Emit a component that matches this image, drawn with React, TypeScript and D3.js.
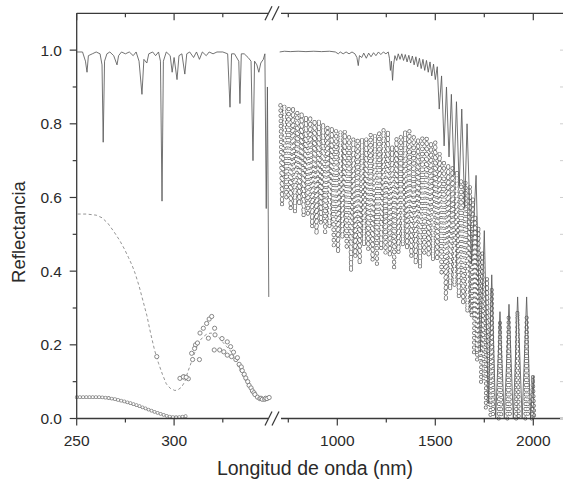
import React from 'react';
import * as d3 from 'd3';

type P = [number, number];

// ---- axis ticks ----
const leftMajor = [250, 300];
const leftMinor = [275, 325];
const rightMajor = [1000, 1500, 2000];
const rightMinor = [750, 1250, 1750];
const yMajor = [0, 0.2, 0.4, 0.6, 0.8, 1.0];
const yMinor = [0.1, 0.3, 0.5, 0.7, 0.9];

// ---- solid line (left segment, 250-350 nm) ----
const solidLeft: P[] = [
  [250, 0.995], [253, 0.995], [254.5, 0.97], [255.3, 0.94], [256, 0.985], [258, 0.99], [260, 0.995],
  [262, 0.99], [263, 0.96], [263.6, 0.75], [264.3, 0.97], [265.5, 0.99], [267, 0.995], [269, 0.985],
  [270.7, 0.96], [271.5, 0.985], [273, 0.995], [275, 0.99], [277, 0.995], [279, 0.985], [280.5, 0.995],
  [282, 0.97], [283.5, 0.88], [284.5, 0.975], [286, 0.965], [287, 0.99], [289, 0.995], [290.5, 0.985],
  [292, 0.995], [293, 0.97], [293.8, 0.59], [294.5, 0.97], [296, 0.995], [298, 0.985], [299, 0.94],
  [300, 0.98], [301.5, 0.92], [302.5, 0.985], [304, 0.99], [305.5, 0.935], [306.5, 0.99], [308, 0.995],
  [310, 0.98], [311.5, 0.995], [313, 0.975], [314.5, 0.995], [316.5, 0.985], [318, 0.995], [320, 0.99],
  [322, 0.995], [325, 0.995], [327.5, 0.99], [328.7, 0.845], [329.5, 0.99], [331, 0.99], [333.2, 0.97],
  [333.8, 0.855], [334.5, 0.99], [336, 0.99], [338, 0.98], [339.5, 0.97], [340.5, 0.70], [341.3, 0.97],
  [342.5, 0.96], [343.5, 0.94], [344.5, 0.965], [345.8, 0.975], [346.6, 0.99], [347.3, 0.57],
  [347.9, 0.90], [348.6, 0.33],
];

// ---- solid line (right segment, 700-2150 nm) ----
const solidRight: P[] = [
  [706, 0.995], [730, 0.997], [760, 0.996], [800, 0.997], [840, 0.996], [880, 0.997], [920, 0.996],
  [960, 0.997], [990, 0.995], [1005, 0.99], [1015, 0.995], [1030, 0.99], [1045, 0.995], [1060, 0.99],
  [1075, 0.995], [1090, 0.99], [1100, 0.98], [1107, 0.958], [1113, 0.985], [1125, 0.98], [1135, 0.992],
  [1148, 0.978], [1160, 0.992], [1172, 0.982], [1185, 0.993], [1197, 0.985], [1210, 0.995], [1222, 0.988],
  [1235, 0.995], [1248, 0.99], [1260, 0.995], [1266, 0.978], [1271, 0.945], [1276, 0.97], [1282, 0.918],
  [1287, 0.96], [1294, 0.985], [1303, 0.972], [1311, 0.99], [1320, 0.975], [1329, 0.99], [1338, 0.972],
  [1347, 0.988], [1356, 0.968], [1365, 0.986], [1374, 0.965], [1383, 0.984], [1392, 0.96], [1401, 0.982],
  [1410, 0.955], [1419, 0.978], [1428, 0.95], [1437, 0.975], [1446, 0.945], [1455, 0.972], [1464, 0.94],
  [1473, 0.968], [1482, 0.93], [1491, 0.962], [1500, 0.92], [1510, 0.955], [1520, 0.84], [1532, 0.93],
  [1545, 0.74], [1557, 0.90], [1570, 0.71], [1582, 0.88], [1596, 0.66], [1608, 0.86], [1622, 0.63],
  [1635, 0.84], [1650, 0.57], [1662, 0.80], [1685, 0.42], [1708, 0.66], [1730, 0.18], [1750, 0.51],
  [1770, 0.04], [1788, 0.39], [1808, 0.0], [1830, 0.29], [1852, 0.0], [1876, 0.31], [1898, 0.0],
  [1920, 0.33], [1943, 0.0], [1966, 0.33], [1986, 0.0], [2000, 0.115], [2004, 0.0],
];

// ---- dashed curve (left segment) ----
const dashedLeft: P[] = [
  [250.5, 0.555], [255, 0.555], [260, 0.552], [263, 0.545], [266, 0.53], [269, 0.508], [272, 0.484],
  [274.5, 0.46], [276.5, 0.438], [278.5, 0.415], [280, 0.394], [282, 0.36], [284, 0.32], [286, 0.28],
  [288, 0.23], [290, 0.185], [292, 0.15], [294, 0.12], [296, 0.094], [298, 0.082], [300.4, 0.076],
  [302, 0.078], [303.8, 0.085], [305.5, 0.1], [307, 0.126], [309, 0.155], [311, 0.185], [313, 0.21],
  [315, 0.222], [317, 0.23], [319, 0.232], [321, 0.228], [323, 0.22], [325, 0.207], [327, 0.195],
  [329, 0.183], [331, 0.165], [333.8, 0.13], [336, 0.108], [338, 0.09], [340, 0.075], [342.4, 0.06],
  [345, 0.052], [347, 0.053], [348.5, 0.057],
];

// ---- open-circle series (left segment) ----
const circlesA: P[] = [
  [303, 0.109], [305, 0.113], [307.3, 0.108], [309.5, 0.16], [311, 0.2], [313.3, 0.232], [315, 0.245],
  [316.7, 0.258], [318, 0.27], [319.3, 0.277], [320.8, 0.245],
];
const circlesB: P[] = [
  [291.1, 0.168], [304.7, 0.113], [306.2, 0.112], [310.5, 0.19], [312, 0.205], [317.6, 0.218],
  [321, 0.227], [324.6, 0.217], [327.3, 0.208], [329, 0.195], [330.5, 0.18],
];
const circlesC: P[] = [
  [309, 0.177], [313, 0.16], [320.6, 0.186], [323.4, 0.186], [325.5, 0.181], [327.3, 0.172], [329.5, 0.168],
];
const circlesTail: P[] = [
  [331.7, 0.16], [332.5, 0.165], [333.4, 0.147], [334.5, 0.14], [335, 0.13], [336, 0.12], [336.8, 0.11],
  [337.8, 0.1], [338.5, 0.09], [339.5, 0.083], [340.2, 0.075], [341, 0.07], [341.5, 0.065], [342.8, 0.058],
  [344, 0.054], [344.6, 0.055], [345.3, 0.052], [346.5, 0.052], [347, 0.055], [347.7, 0.054], [348.8, 0.057],
];

// ---- bottom open-circle series (left segment) ----
const bottomSeries: P[] = [
  [250, 0.058], [262, 0.058], [266, 0.056], [270, 0.052], [274, 0.047], [278, 0.041], [282, 0.034],
  [286, 0.026], [290, 0.018], [294, 0.011], [297, 0.006], [300, 0.003], [303, 0.004], [307, 0.007],
];

// ---- fringe band (right segment): top & bottom of each fringe ----
const bandTopNm = [710, 730, 752, 774, 796, 818, 840, 862, 884, 906, 928, 950, 972, 994, 1016, 1038, 1060, 1082,
  1104, 1126, 1148, 1170, 1192, 1214, 1236, 1258, 1280, 1302, 1324, 1346, 1368, 1390, 1412, 1434, 1456, 1478,
  1500, 1522, 1544, 1566, 1588, 1610, 1632, 1654, 1676];
const bandTop = [0.85, 0.85, 0.84, 0.845, 0.83, 0.83, 0.82, 0.82, 0.81, 0.81, 0.80, 0.79, 0.79, 0.78, 0.78, 0.78,
  0.77, 0.76, 0.76, 0.76, 0.76, 0.77, 0.77, 0.78, 0.785, 0.78, 0.74, 0.76, 0.77, 0.78, 0.78, 0.77, 0.76, 0.76,
  0.76, 0.75, 0.75, 0.72, 0.70, 0.69, 0.68, 0.67, 0.65, 0.64, 0.63];
const bandBotNm = [718, 740, 762, 784, 806, 828, 850, 872, 894, 916, 938, 960, 982, 1004, 1026, 1048, 1070, 1092,
  1114, 1136, 1158, 1180, 1202, 1224, 1246, 1268, 1290, 1312, 1334, 1356, 1378, 1400, 1422, 1444, 1466, 1488,
  1510, 1532, 1554, 1576, 1598, 1620, 1642, 1664, 1684];
const bandBot = [0.58, 0.60, 0.57, 0.56, 0.58, 0.55, 0.55, 0.52, 0.50, 0.53, 0.50, 0.52, 0.47, 0.45, 0.49, 0.46,
  0.40, 0.44, 0.42, 0.47, 0.46, 0.43, 0.42, 0.46, 0.45, 0.44, 0.41, 0.45, 0.47, 0.46, 0.44, 0.42, 0.41, 0.45,
  0.44, 0.43, 0.43, 0.39, 0.32, 0.35, 0.36, 0.33, 0.31, 0.29, 0.28];

// ---- fringe columns at long wavelengths ----
const tailNm = [1692, 1704, 1720, 1740, 1764, 1788, 1830, 1874, 1919, 1966, 1998];
const tailTop = [0.60, 0.55, 0.52, 0.45, 0.38, 0.35, 0.26, 0.28, 0.29, 0.28, 0.115];
const tailBot = [0.28, 0.18, 0.16, 0.10, 0.03, 0.01, 0.0, 0.0, 0.0, 0.0, 0.0];

const W = 563;
const H = 485;
const PL = 76.7;
const PR = 563;
const PT = 13.3;
const PB = 418.5;
const BREAK = 274;

const xL = d3.scaleLinear().domain([250, 350]).range([PL, 271.5]);
const xR = d3.scaleLinear().domain([700, 2150]).range([278.5, 562.7]);
const y = d3.scaleLinear().domain([0, 1.1]).range([PB, PT]);

const lineL = d3.line<P>().x((d) => xL(d[0])).y((d) => y(d[1]));
const lineR = d3.line<P>().x((d) => xR(d[0])).y((d) => y(d[1]));

const FONT = "'Liberation Sans', Arial, Helvetica, sans-serif";
const AX = '#3a3a3a';

function Rings({ d, gap, outer, inner, color }: { d: string; gap: number; outer: number; inner: number; color: string }) {
  return (
    <g fill="none">
      <path d={d} stroke={color} strokeWidth={outer} strokeLinecap="round" strokeDasharray={`0 ${gap}`} />
      <path d={d} stroke="#fff" strokeWidth={inner} strokeLinecap="round" strokeDasharray={`0 ${gap}`} />
    </g>
  );
}

export default function App() {
  const bandPts: P[] = [];
  bandTopNm.forEach((nm, i) => {
    bandPts.push([nm, bandTop[i]]);
    bandPts.push([bandBotNm[i], bandBot[i]]);
  });
  const bandD = lineR(bandPts) || '';
  const tailD = tailNm
    .map((nm, i) => {
      const cx = xR(nm);
      return `M${cx - 1.3},${y(tailBot[i])}L${cx},${y(tailTop[i])}L${cx + 1.3},${y(tailBot[i])}`;
    })
    .join('');

  const leftCircles = [...circlesA, ...circlesB, ...circlesC, ...circlesTail];

  const axisSeg = (yy: number) => (
    <g stroke={AX} strokeWidth={1.3}>
      <line x1={PL} x2={BREAK - 6} y1={yy} y2={yy} />
      <line x1={BREAK + 7} x2={PR} y1={yy} y2={yy} />
      <line x1={BREAK - 9} y1={yy + 7} x2={BREAK - 2} y2={yy - 7} strokeWidth={1.2} />
      <line x1={BREAK - 2} y1={yy + 7} x2={BREAK + 5} y2={yy - 7} strokeWidth={1.2} />
    </g>
  );

  const xMajorPos = [...leftMajor.map((v) => xL(v)), ...rightMajor.map((v) => xR(v))];
  const xMinorPos = [...leftMinor.map((v) => xL(v)), ...rightMinor.map((v) => xR(v))];
  const xLabels = [
    ...leftMajor.map((v) => ({ v, x: xL(v) })),
    ...rightMajor.map((v) => ({ v, x: xR(v) })),
  ];

  return (
    <svg
      width={W}
      height={H}
      style={{ position: 'absolute', left: 0, top: 0, background: '#fff' }}
      fontFamily={FONT}
    >
      <rect x={0} y={0} width={W} height={H} fill="#fff" />

      {/* fringe band */}
      <path d={bandD} fill="none" stroke="#999" strokeWidth={0.5} strokeDasharray="1 1.5" />
      <Rings d={bandD} gap={5.2} outer={4.2} inner={2.8} color="#5e5e5e" />
      <Rings d={tailD} gap={4.8} outer={4.0} inner={2.5} color="#5e5e5e" />

      {/* bottom series */}
      <Rings d={lineL(bottomSeries) || ''} gap={3.2} outer={3.8} inner={2.2} color="#8a8a8a" />

      {/* dashed curve */}
      <path d={lineL(dashedLeft) || ''} fill="none" stroke="#959595" strokeWidth={1} strokeDasharray="3 2.5" />

      {/* left open circles */}
      <g fill="#fff" stroke="#7a7a7a" strokeWidth={0.9}>
        {leftCircles.map((d, i) => (
          <circle key={i} cx={xL(d[0])} cy={y(d[1])} r={2.1} />
        ))}
      </g>

      {/* solid lines */}
      <path d={lineL(solidLeft) || ''} fill="none" stroke="#5a5a5a" strokeWidth={0.85} />
      <path d={lineR(solidRight) || ''} fill="none" stroke="#5a5a5a" strokeWidth={0.85} />

      {/* axes */}
      {axisSeg(PT)}
      {axisSeg(PB)}
      <line x1={PL} x2={PL} y1={PT} y2={PB} stroke={AX} strokeWidth={1.3} />

      {/* bottom ticks (outward) and top ticks (inward) */}
      <g stroke={AX} strokeWidth={1.2}>
        {xMajorPos.map((x, i) => (
          <g key={'M' + i}>
            <line x1={x} x2={x} y1={PB} y2={PB + 7} />
            <line x1={x} x2={x} y1={PT} y2={PT + 7} />
          </g>
        ))}
        {xMinorPos.map((x, i) => (
          <g key={'m' + i}>
            <line x1={x} x2={x} y1={PB} y2={PB + 4} />
            <line x1={x} x2={x} y1={PT} y2={PT + 4} />
          </g>
        ))}
        {yMajor.map((v) => (
          <line key={'yM' + v} x1={PL - 7} x2={PL} y1={y(v)} y2={y(v)} />
        ))}
        {yMinor.map((v) => (
          <line key={'ym' + v} x1={PL - 4} x2={PL} y1={y(v)} y2={y(v)} />
        ))}
      </g>
      {/* faint right-edge ticks */}
      <g stroke="#cfcfcf" strokeWidth={1}>
        {[...yMajor, ...yMinor].map((v) => (
          <line key={'r' + v} x1={560} x2={563} y1={y(v)} y2={y(v)} />
        ))}
      </g>

      {/* tick labels */}
      <g fill="#2a2a2a" fontSize={15.5}>
        {xLabels.map((t) => (
          <text key={'xl' + t.v} x={t.x} y={446} textAnchor="middle">
            {t.v}
          </text>
        ))}
        {yMajor.map((v) => (
          <text key={'yl' + v} x={62} y={y(v)} dy="0.36em" textAnchor="end">
            {d3.format('.1f')(v)}
          </text>
        ))}
      </g>

      {/* axis titles */}
      <text x={315} y={475} textAnchor="middle" fontSize={19.5} fill="#2a2a2a">
        Longitud de onda (nm)
      </text>
      <text
        transform="translate(25,232) rotate(-90)"
        textAnchor="middle"
        fontSize={18.5}
        fill="#2a2a2a"
      >
        Reflectancia
      </text>
    </svg>
  );
}
